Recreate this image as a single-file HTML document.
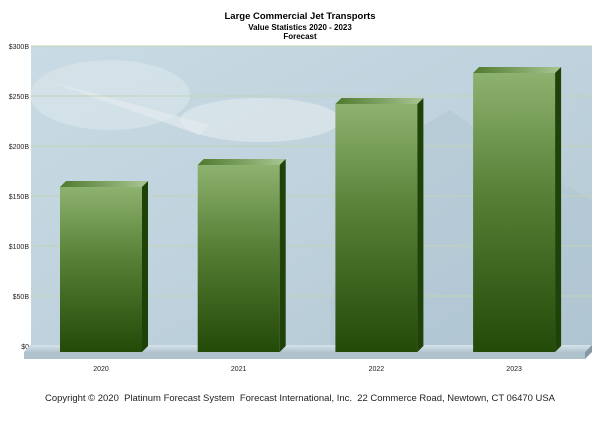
<!DOCTYPE html>
<html><head><meta charset="utf-8"><style>
body{margin:0;background:#fff;width:600px;height:424px;overflow:hidden;font-family:"Liberation Sans",sans-serif}
</style></head><body>
<svg id="chart" width="600" height="424" xmlns="http://www.w3.org/2000/svg" font-family="Liberation Sans, sans-serif">
<defs>
<linearGradient id="bg" x1="0" y1="0" x2="1" y2="1">
<stop offset="0" stop-color="#c9dbe4"/><stop offset="0.5" stop-color="#bfd2dd"/><stop offset="1" stop-color="#b3c8d4"/></linearGradient>
<linearGradient id="front" x1="0" y1="0" x2="0" y2="1">
<stop offset="0" stop-color="#8db26f"/><stop offset="0.45" stop-color="#567e34"/><stop offset="1" stop-color="#244a08"/></linearGradient>
<linearGradient id="topf" x1="0" y1="0" x2="1" y2="0">
<stop offset="0" stop-color="#4f7a2e"/><stop offset="1" stop-color="#a9c693"/></linearGradient>
<linearGradient id="floor" x1="0" y1="0" x2="0" y2="1">
<stop offset="0" stop-color="#d6e2e8"/><stop offset="1" stop-color="#b4c5cf"/></linearGradient>
</defs>
<text x="300" y="19" text-anchor="middle" font-size="9.5" font-weight="bold">Large Commercial Jet Transports</text>
<text x="300" y="30" text-anchor="middle" font-size="8" font-weight="bold">Value Statistics 2020 - 2023</text>
<text x="300" y="39" text-anchor="middle" font-size="8" font-weight="bold">Forecast</text>
<rect x="31" y="46" width="561" height="302" fill="url(#bg)"/>
<ellipse cx="110" cy="95" rx="80" ry="35" fill="#dfe9ee" opacity="0.5"/>
<ellipse cx="260" cy="120" rx="80" ry="22" fill="#e3ebef" opacity="0.6"/>
<path d="M45 80 L210 125 L200 135 Z" fill="#e1eaee" opacity="0.7"/>
<path d="M330 300 L380 150 L450 110 L520 160 L592 200 L592 348 L330 348Z" fill="#a9bfcc" opacity="0.3"/>
<g id="grid"></g>
<path d="M30 345 L592 345 L585 352 L24 352Z" fill="url(#floor)"/>
<path d="M24 352 L585 352 L585 359 L24 359Z" fill="#b0c2cc"/>
<path d="M585 352 L592 345 L592 352 L585 359Z" fill="#8599a5"/>
<g id="bars"></g>
<text x="45" y="401" textLength="510" lengthAdjust="spacingAndGlyphs" xml:space="preserve" font-size="9.5" fill="#222">Copyright © 2020  Platinum Forecast System  Forecast International, Inc.  22 Commerce Road, Newtown, CT 06470 USA</text>
</svg>
<script>
const categories=["2020","2021","2022","2023"];
const values=[165,187,248,279];
const tickValues=[0,50,100,150,200,250,300];
const tickLabels=["$0","$50B","$100B","$150B","$200B","$250B","$300B"];
const NS="http://www.w3.org/2000/svg";
const y=v=>346-v*(300/300);
const xFront=i=>60+i*137.7;
const bw=82,d=6;
function mk(t,a,p){const e=document.createElementNS(NS,t);for(const k in a)e.setAttribute(k,a[k]);p.appendChild(e);return e;}
const g=document.getElementById('grid');
tickValues.forEach((v,i)=>{
 if(v>0){const l=mk('line',{x1:31,x2:592,y1:y(v),y2:y(v),stroke:'#c3d3b4','stroke-width':1},g);
 
 }
 const t=mk('text',{x:29,y:y(v)+3,'text-anchor':'end','font-size':7,fill:'#222'},g);
 t.textContent=tickLabels[i];
 
 
});
const b=document.getElementById('bars');
categories.forEach((c,i)=>{
 const x=xFront(i),top=y(values[i])+d,bot=352;
 const grp=mk('g',{},b);
 
 
 mk('rect',{x:x,y:top,width:bw,height:bot-top,fill:'url(#front)'},grp);
 mk('path',{d:`M${x} ${top} L${x+d} ${top-d} L${x+bw+d} ${top-d} L${x+bw} ${top}Z`,fill:'url(#topf)'},grp);
 mk('path',{d:`M${x+bw} ${top} L${x+bw+d} ${top-d} L${x+bw+d} ${bot-d} L${x+bw} ${bot}Z`,fill:'#1f4208'},grp);
 const t=mk('text',{x:x+bw/2,y:371,'text-anchor':'middle','font-size':7,fill:'#222'},b);
 t.textContent=c;
 
 
});
</script>
</body></html>
